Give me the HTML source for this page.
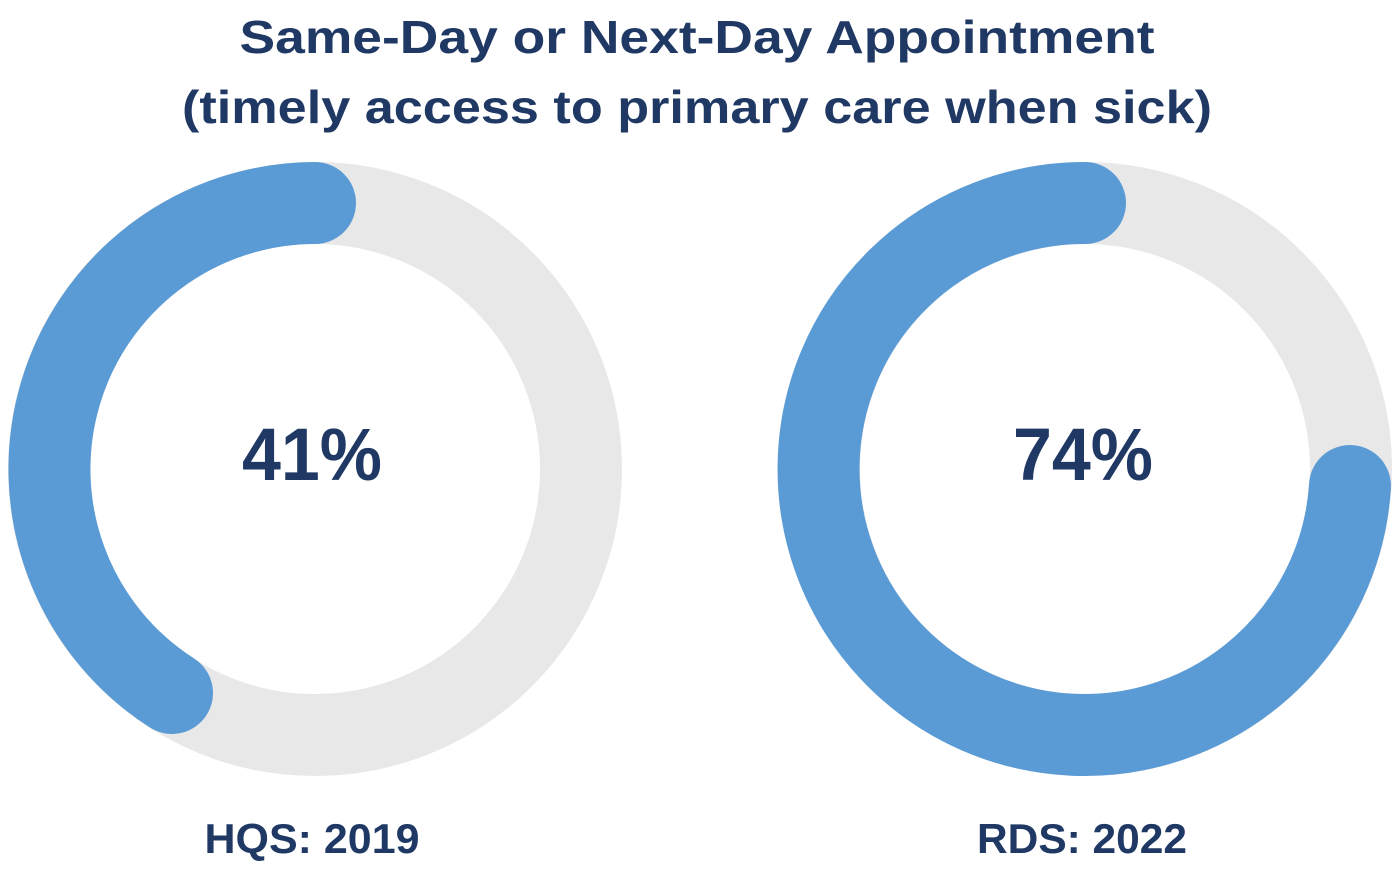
<!DOCTYPE html>
<html><head><meta charset="utf-8"><style>body{margin:0;background:#fff}svg{display:block}</style></head>
<body>
<svg width="1398" height="870" viewBox="0 0 1398 870" xmlns="http://www.w3.org/2000/svg">
<g font-family="Liberation Sans, sans-serif" font-weight="bold" fill="#1f3864" text-anchor="middle">
<text x="697" y="53" font-size="46" textLength="915" lengthAdjust="spacingAndGlyphs">Same-Day or Next-Day Appointment</text>
<text x="697" y="123" font-size="46" textLength="1030" lengthAdjust="spacingAndGlyphs">(timely access to primary care when sick)</text>
</g>
<g fill="none" stroke-width="82">
<circle cx="315" cy="469" r="266" stroke="#e8e8e8"/>
<circle cx="1085" cy="469" r="266" stroke="#e8e8e8"/>
<path d="M315 203 A266 266 0 0 0 172 693" stroke="#5b9bd5" stroke-linecap="round"/>
<path d="M1085 203 A266 266 0 1 0 1350 486" stroke="#5b9bd5" stroke-linecap="round"/>
</g>
<g font-family="Liberation Sans, sans-serif" font-weight="bold" fill="#1f3864" text-anchor="middle">
<text x="312" y="480" font-size="74" textLength="140" lengthAdjust="spacingAndGlyphs">41%</text>
<text x="1083" y="480" font-size="74" textLength="140" lengthAdjust="spacingAndGlyphs">74%</text>
<text x="312" y="853" font-size="42" textLength="215" lengthAdjust="spacingAndGlyphs">HQS: 2019</text>
<text x="1082" y="853" font-size="42" textLength="210" lengthAdjust="spacingAndGlyphs">RDS: 2022</text>
</g>
</svg>
</body></html>
